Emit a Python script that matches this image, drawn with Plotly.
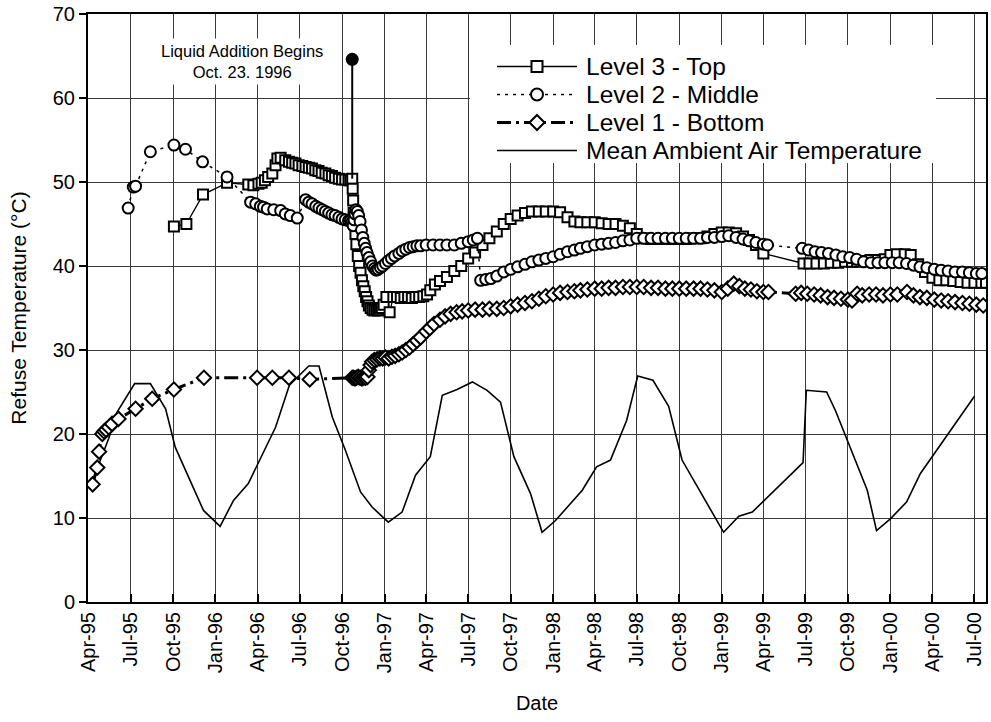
import plotly.graph_objects as go

# ---------------- data ----------------
quarter_ticks = ["1995-04-01", "1995-07-01", "1995-10-01", "1996-01-01", "1996-04-01", "1996-07-01",
                 "1996-10-01", "1997-01-01", "1997-04-01", "1997-07-01", "1997-10-01", "1998-01-01",
                 "1998-04-01", "1998-07-01", "1998-10-01", "1999-01-01", "1999-04-01", "1999-07-01",
                 "1999-10-01", "2000-01-01", "2000-04-01", "2000-07-01"]
quarter_labels = ["Apr-95", "Jul-95", "Oct-95", "Jan-96", "Apr-96", "Jul-96", "Oct-96", "Jan-97",
                  "Apr-97", "Jul-97", "Oct-97", "Jan-98", "Apr-98", "Jul-98", "Oct-98", "Jan-99",
                  "Apr-99", "Jul-99", "Oct-99", "Jan-00", "Apr-00", "Jul-00"]

l3_dates = ["1995-10-03", "1995-10-30", "1995-12-05", "1996-01-26", "1996-03-12", "1996-03-23", "1996-04-03",
            "1996-04-10", "1996-04-17", "1996-04-24", "1996-05-03", "1996-05-10", "1996-05-14", "1996-05-21",
            "1996-05-31", "1996-06-08", "1996-06-15", "1996-06-22", "1996-06-29", "1996-07-07", "1996-07-14",
            "1996-07-21", "1996-07-28", "1996-08-04", "1996-08-11", "1996-08-18", "1996-08-26", "1996-09-02",
            "1996-09-09", "1996-09-16", "1996-09-24", "1996-10-01", "1996-10-08", "1996-10-15", "1996-10-19",
            "1996-10-23", "1996-10-24", "1996-10-25", "1996-10-26", "1996-10-28", "1996-10-30", "1996-11-01",
            "1996-11-04", "1996-11-07", "1996-11-10", "1996-11-13", "1996-11-16", "1996-11-19", "1996-11-22",
            "1996-11-25", "1996-11-28", "1996-12-02", "1996-12-06", "1996-12-10", "1996-12-14", "1996-12-18",
            "1996-12-22", "1996-12-26", "1996-12-30", "1997-01-05", "1997-01-12", "1997-01-20", "1997-01-28",
            "1997-02-05", "1997-02-13", "1997-02-21", "1997-03-01", "1997-03-09", "1997-03-17", "1997-03-26",
            "1997-04-03", "1997-04-10", "1997-04-20", "1997-05-01", "1997-05-16", "1997-06-01", "1997-06-16",
            "1997-07-01", "1997-07-16", "1997-08-01", "1997-08-16", "1997-09-01", "1997-09-16", "1997-10-01",
            "1997-10-16", "1997-11-01", "1997-11-16", "1997-12-01", "1997-12-16", "1998-01-01", "1998-01-16",
            "1998-02-01", "1998-02-16", "1998-03-01", "1998-03-16", "1998-04-01", "1998-04-16", "1998-05-01",
            "1998-05-16", "1998-06-01", "1998-06-16", "1998-07-01", "1998-07-16", "1998-08-01", "1998-08-16",
            "1998-09-01", "1998-09-16", "1998-10-01", "1998-10-16", "1998-11-01", "1998-11-16", "1998-12-01",
            "1998-12-16", "1999-01-01", "1999-01-16", "1999-02-01", "1999-02-16", "1999-03-01", "1999-03-16",
            "1999-04-01", "1999-06-27", "1999-07-10", "1999-07-25", "1999-08-10", "1999-08-25", "1999-09-10",
            "1999-09-25", "1999-10-10", "1999-10-21", "1999-11-05", "1999-11-19", "1999-12-05", "1999-12-20",
            "2000-01-01", "2000-01-15", "2000-02-01", "2000-02-14", "2000-03-01", "2000-03-16", "2000-04-01",
            "2000-04-16", "2000-05-01", "2000-05-16", "2000-06-01", "2000-06-16", "2000-07-01", "2000-07-16",
            "2000-07-26"]
l3_vals = [44.7, 45.0, 48.5, 49.9, 49.7, 49.6, 49.8,
           49.9, 50.2, 50.6, 51.0, 52.0, 52.8, 52.9,
           52.6, 52.4, 52.3, 52.2, 52.0, 51.9, 51.8,
           51.7, 51.6, 51.4, 51.3, 51.1, 51.0, 50.8,
           50.7, 50.5, 50.4, 50.3, 50.3, 50.2, 50.2,
           50.4, 49.2, 47.8, 46.3, 45.0, 43.8, 42.6,
           41.2, 40.0, 39.2, 38.3, 37.6, 37.0, 36.3,
           35.8, 35.3, 35.0, 34.8, 34.7, 34.8, 34.7,
           34.9, 35.0, 35.4, 36.3, 34.5, 36.3, 36.3,
           36.2, 36.3, 36.3, 36.2, 36.3, 36.3, 36.4,
           36.6, 37.1, 37.8, 38.2, 38.7, 39.4, 40.0,
           40.9, 41.6, 42.5, 43.3, 44.1, 45.0, 45.6,
           46.0, 46.3, 46.5, 46.5, 46.5, 46.5, 46.4,
           45.8, 45.3, 45.2, 45.2, 45.2, 45.1, 45.0,
           45.0, 44.8, 44.5, 43.8, 43.3, 43.2, 43.2,
           43.2, 43.2, 43.2, 43.2, 43.3, 43.3, 43.5,
           43.8, 44.0, 44.0, 43.9, 43.5, 43.1, 42.5,
           41.5, 40.3, 40.3, 40.3, 40.3, 40.4, 40.4,
           40.5, 40.5, 40.5, 40.6, 40.7, 40.7, 40.8,
           41.3, 41.4, 41.4, 41.3, 40.2, 39.3, 38.6,
           38.3, 38.3, 38.2, 38.1, 38.0, 38.0, 38.0,
           38.0]

l2_dates = ["1995-06-26", "1995-07-07", "1995-07-12", "1995-08-13", "1995-10-03", "1995-10-28", "1995-12-04",
            "1996-01-26", "1996-03-17", "1996-03-28", "1996-04-07", "1996-04-14", "1996-04-22", "1996-05-06",
            "1996-05-21", "1996-05-31", "1996-06-11", "1996-06-26", "1996-07-14", "1996-07-21", "1996-07-28",
            "1996-08-05", "1996-08-12", "1996-08-19", "1996-08-26", "1996-09-02", "1996-09-09", "1996-09-16",
            "1996-09-24", "1996-10-01", "1996-10-08", "1996-10-15", "1996-10-19", "1996-10-23", "1996-10-25",
            "1996-10-27", "1996-10-29", "1996-10-31", "1996-11-03", "1996-11-06", "1996-11-09", "1996-11-12",
            "1996-11-15", "1996-11-18", "1996-11-21", "1996-11-24", "1996-11-28", "1996-12-02", "1996-12-06",
            "1996-12-10", "1996-12-14", "1996-12-18", "1996-12-23", "1996-12-28", "1997-01-03", "1997-01-09",
            "1997-01-16", "1997-01-23", "1997-02-01", "1997-02-08", "1997-02-16", "1997-02-24", "1997-03-04",
            "1997-03-12", "1997-03-20", "1997-04-01", "1997-04-16", "1997-05-01", "1997-05-16", "1997-06-01",
            "1997-06-16", "1997-07-01", "1997-07-12", "1997-07-21", "1997-07-28", "1997-08-08", "1997-08-19",
            "1997-09-01", "1997-09-16", "1997-10-01", "1997-10-16", "1997-11-01", "1997-11-16", "1997-12-01",
            "1997-12-16", "1998-01-01", "1998-01-16", "1998-02-01", "1998-02-16", "1998-03-01", "1998-03-16",
            "1998-04-01", "1998-04-16", "1998-05-01", "1998-05-16", "1998-06-01", "1998-06-16", "1998-07-01",
            "1998-07-16", "1998-08-01", "1998-08-16", "1998-09-01", "1998-09-16", "1998-10-01", "1998-10-16",
            "1998-11-01", "1998-11-16", "1998-12-01", "1998-12-16", "1999-01-01", "1999-01-16", "1999-02-01",
            "1999-02-16", "1999-03-01", "1999-03-16", "1999-04-01", "1999-04-10", "1999-06-24", "1999-07-08",
            "1999-07-22", "1999-08-05", "1999-08-20", "1999-09-05", "1999-09-20", "1999-10-05", "1999-10-20",
            "1999-11-04", "1999-11-20", "1999-12-05", "1999-12-20", "2000-01-05", "2000-01-20", "2000-02-05",
            "2000-02-20", "2000-03-05", "2000-03-20", "2000-04-05", "2000-04-20", "2000-05-05", "2000-05-20",
            "2000-06-05", "2000-06-20", "2000-07-05", "2000-07-17"]
l2_vals = [46.9, 49.4, 49.5, 53.6, 54.4, 53.9, 52.4,
           50.6, 47.6, 47.4, 47.1, 47.0, 46.8, 46.7,
           46.6, 46.2, 46.0, 45.7, 47.9, 47.6, 47.4,
           47.1, 46.9, 46.7, 46.5, 46.3, 46.1, 46.0,
           45.8, 45.6, 45.5, 45.4, 45.4, 45.3, 44.8,
           45.5, 46.2, 46.7, 46.5, 46.0, 45.3, 44.3,
           43.4, 42.7, 42.1, 41.6, 41.0, 40.5, 40.0,
           39.7, 39.5, 39.6, 39.8, 40.0, 40.3, 40.6,
           40.9, 41.2, 41.5, 41.8, 42.0, 42.2, 42.3,
           42.4, 42.4, 42.5, 42.5, 42.5, 42.5, 42.5,
           42.7, 42.9, 43.1, 43.3, 38.3, 38.4, 38.5,
           38.8, 39.3, 39.6, 39.9, 40.2, 40.5, 40.7,
           40.9, 41.1, 41.4, 41.7, 41.9, 42.1, 42.3,
           42.5, 42.6, 42.7, 42.8, 43.0, 43.1, 43.3,
           43.3, 43.3, 43.3, 43.3, 43.3, 43.3, 43.3,
           43.3, 43.3, 43.4, 43.4, 43.5, 43.6, 43.4,
           43.2, 43.0, 42.8, 42.6, 42.5, 42.1, 41.9,
           41.7, 41.6, 41.5, 41.3, 41.1, 41.0, 40.8,
           40.5, 40.4, 40.4, 40.4, 40.4, 40.4, 40.3,
           40.1, 39.9, 39.8, 39.6, 39.5, 39.4, 39.3,
           39.3, 39.2, 39.1, 39.1]

l1_dates = ["1995-04-10", "1995-04-20", "1995-04-24", "1995-05-01", "1995-05-05", "1995-05-09", "1995-05-15",
            "1995-05-22", "1995-06-05", "1995-07-12", "1995-08-17", "1995-10-03", "1995-12-07", "1996-03-31",
            "1996-05-03", "1996-06-08", "1996-07-23", "1996-10-23", "1996-10-26", "1996-10-29", "1996-11-01",
            "1996-11-05", "1996-11-09", "1996-11-13", "1996-11-17", "1996-11-21", "1996-11-25", "1996-11-28",
            "1996-12-02", "1996-12-05", "1996-12-10", "1996-12-16", "1996-12-22", "1996-12-28", "1997-01-03",
            "1997-01-10", "1997-01-17", "1997-01-24", "1997-02-01", "1997-02-08", "1997-02-16", "1997-02-24",
            "1997-03-04", "1997-03-12", "1997-03-20", "1997-04-01", "1997-04-09", "1997-04-18", "1997-05-01",
            "1997-05-12", "1997-05-24", "1997-06-06", "1997-06-18", "1997-07-01", "1997-07-16", "1997-08-01",
            "1997-08-16", "1997-09-01", "1997-09-16", "1997-10-01", "1997-10-16", "1997-11-01", "1997-11-16",
            "1997-12-01", "1997-12-16", "1998-01-01", "1998-01-16", "1998-02-01", "1998-02-16", "1998-03-01",
            "1998-03-16", "1998-04-01", "1998-04-16", "1998-05-01", "1998-05-16", "1998-06-01", "1998-06-16",
            "1998-07-01", "1998-07-16", "1998-08-01", "1998-08-16", "1998-09-01", "1998-09-16", "1998-10-01",
            "1998-10-16", "1998-11-01", "1998-11-16", "1998-12-01", "1998-12-16", "1999-01-01", "1999-01-14",
            "1999-01-27", "1999-02-08", "1999-02-20", "1999-03-05", "1999-03-18", "1999-04-01", "1999-04-12",
            "1999-06-10", "1999-06-22", "1999-07-05", "1999-07-20", "1999-08-03", "1999-08-18", "1999-09-01",
            "1999-09-16", "1999-10-01", "1999-10-10", "1999-10-21", "1999-11-01", "1999-11-16", "1999-12-01",
            "1999-12-16", "2000-01-01", "2000-01-16", "2000-02-06", "2000-02-20", "2000-03-05", "2000-03-20",
            "2000-04-05", "2000-04-20", "2000-05-05", "2000-05-20", "2000-06-05", "2000-06-20", "2000-07-05",
            "2000-07-20"]
l1_vals = [14.0, 16.0, 17.9, 20.0, 20.3, 20.5, 20.8,
           21.2, 21.8, 23.0, 24.2, 25.3, 26.7, 26.7,
           26.7, 26.7, 26.5, 26.7, 26.7, 26.6, 26.7,
           26.8, 26.7, 26.6, 26.7, 26.7, 26.8, 27.6,
           28.2, 28.6, 28.8, 28.9, 29.0, 29.0, 29.1,
           29.0, 29.2, 29.3, 29.5, 29.7, 30.0, 30.3,
           30.7, 31.1, 31.5, 32.2, 32.6, 33.1, 33.6,
           34.0, 34.3, 34.5, 34.6, 34.7, 34.8, 34.8,
           34.9, 34.9, 35.0, 35.2, 35.4, 35.6, 35.8,
           36.1, 36.4, 36.6, 36.8, 36.9, 37.0, 37.1,
           37.2, 37.3, 37.3, 37.4, 37.4, 37.5, 37.5,
           37.5, 37.5, 37.4, 37.4, 37.3, 37.3, 37.3,
           37.3, 37.3, 37.3, 37.2, 37.1, 36.9, 37.3,
           37.9, 37.6, 37.3, 37.2, 37.0, 36.9, 36.9,
           36.7, 36.8, 36.7, 36.6, 36.5, 36.3, 36.2,
           36.1, 36.0, 35.9, 36.7, 36.5, 36.6, 36.6,
           36.5, 36.6, 36.6, 36.9, 36.5, 36.3, 36.2,
           36.0, 35.9, 35.8, 35.7, 35.6, 35.5, 35.4,
           35.3]

air_dates = ["1995-04-10", "1995-05-15", "1995-06-02", "1995-07-10", "1995-08-13", "1995-09-15", "1995-10-06",
             "1995-12-06", "1996-01-11", "1996-02-09", "1996-03-12", "1996-04-07", "1996-05-10", "1996-06-09",
             "1996-07-21", "1996-08-12", "1996-09-10", "1996-10-08", "1996-11-10", "1996-12-05", "1997-01-09",
             "1997-02-08", "1997-03-09", "1997-04-10", "1997-05-06", "1997-06-07", "1997-07-10", "1997-08-11",
             "1997-09-09", "1997-10-08", "1997-11-13", "1997-12-08", "1998-01-06", "1998-03-05", "1998-04-05",
             "1998-05-05", "1998-06-09", "1998-07-03", "1998-08-05", "1998-09-08", "1998-10-07", "1999-01-05",
             "1999-02-07", "1999-03-08", "1999-06-26", "1999-07-03", "1999-08-16", "1999-09-04", "1999-11-12",
             "1999-12-02", "2000-01-01", "2000-02-05", "2000-03-06", "2000-07-01"]
air_vals = [14.5, 19.5, 22.6, 26.0, 26.0, 23.0, 18.4,
            10.9, 9.0, 12.1, 14.1, 17.1, 20.8, 25.8,
            28.1, 28.1, 22.0, 18.1, 13.1, 11.3, 9.5,
            10.7, 15.1, 17.3, 24.6, 25.3, 26.2, 25.2,
            23.8, 17.3, 12.9, 8.3, 9.7, 13.3, 16.1,
            16.9, 21.6, 26.9, 26.4, 23.3, 16.9, 8.3,
            10.2, 10.7, 16.6, 25.2, 25.0, 22.8, 13.3,
            8.5, 9.9, 11.9, 15.3, 24.5]

event_date = "1996-10-23"
event_top = 64.6
event_base = 50.4
event_text = "Liquid Addition Begins<br>Oct. 23. 1996"

series_names = ["Level 3 - Top", "Level 2 - Middle", "Level 1 - Bottom", "Mean Ambient Air Temperature"]

# ---------------- layout geometry ----------------
W, H = 991, 722
PL, PT, PR, PB = 88, 14, 986, 602  # plot area on the page (pixels); page body margin removed below
ML, MT, MR, MB = PL, PT, W - PR, H - PB
FONT = "Liberation Sans, Arial, sans-serif"


def fx(p):
    return (p - PL) / (PR - PL)


def fy(p):
    return (PB - p) / (PB - PT)


DASH_L2 = "3px,5px"
DASH_L1 = "14px,5px,3px,5px"
MLW = 2.0

fig = go.Figure()

fig.add_trace(go.Scatter(x=air_dates, y=air_vals, mode="lines", name=series_names[3],
                         line=dict(color="black", width=1.6)))
fig.add_trace(go.Scatter(x=l3_dates, y=l3_vals, mode="lines+markers", name=series_names[0],
                         line=dict(color="black", width=1.3),
                         marker=dict(symbol="square", size=10, color="white",
                                     line=dict(color="black", width=MLW))))
fig.add_trace(go.Scatter(x=l2_dates, y=l2_vals, mode="lines+markers", name=series_names[1],
                         line=dict(color="black", width=1.5, dash=DASH_L2),
                         marker=dict(symbol="circle", size=11, color="white",
                                     line=dict(color="black", width=MLW))))
fig.add_trace(go.Scatter(x=l1_dates, y=l1_vals, mode="lines+markers", name=series_names[2],
                         line=dict(color="black", width=3, dash=DASH_L1),
                         marker=dict(symbol="diamond", size=11, color="white",
                                     line=dict(color="black", width=MLW))))
fig.add_trace(go.Scatter(x=[event_date, event_date], y=[event_top, event_base], mode="lines",
                         line=dict(color="black", width=2), showlegend=False))
fig.add_trace(go.Scatter(x=[event_date], y=[event_top], mode="markers", showlegend=False,
                         marker=dict(symbol="circle", size=13, color="black")))

# ---------------- custom legend ----------------
shapes = []
shapes.append(dict(type="rect", xref="paper", yref="paper", x0=fx(470), x1=fx(936), y0=fy(163), y1=fy(45),
                   fillcolor="white", line=dict(width=0), layer="above"))
rows = [66.5, 94.5, 122.5, 150.5]
lx0, lx1, mx = 497, 577, 537
dashes = ["solid", DASH_L2, DASH_L1, "solid"]
widths = [1.3, 1.5, 3, 1.6]
for r, d, w in zip(rows, dashes, widths):
    shapes.append(dict(type="line", xref="paper", yref="paper", x0=fx(lx0), x1=fx(lx1), y0=fy(r), y1=fy(r),
                       line=dict(color="black", width=w, dash=d), layer="above"))
shapes.append(dict(type="rect", xref="paper", yref="paper", x0=fx(mx - 5.5), x1=fx(mx + 5.5),
                   y0=fy(rows[0] + 5.5), y1=fy(rows[0] - 5.5), fillcolor="white",
                   line=dict(color="black", width=MLW), layer="above"))
shapes.append(dict(type="circle", xref="paper", yref="paper", x0=fx(mx - 6), x1=fx(mx + 6),
                   y0=fy(rows[1] + 6), y1=fy(rows[1] - 6), fillcolor="white",
                   line=dict(color="black", width=MLW), layer="above"))
d = 7.5
path = "M {a},{b} L {c},{e} L {a},{f} L {g},{e} Z".format(
    a=fx(mx), b=fy(rows[2] - d), c=fx(mx + d), e=fy(rows[2]), f=fy(rows[2] + d), g=fx(mx - d))
shapes.append(dict(type="path", xref="paper", yref="paper", path=path, fillcolor="white",
                   line=dict(color="black", width=MLW), layer="above"))

annotations = []
for r, name in zip(rows, series_names):
    annotations.append(dict(xref="paper", yref="paper", x=fx(584), y=fy(r), text=name, showarrow=False,
                            xanchor="left", yanchor="middle", font=dict(family=FONT, size=24.5, color="black")))
annotations.append(dict(xref="paper", yref="y", x=fx(242), y=64.3, text=event_text, showarrow=False,
                        xanchor="center", yanchor="middle", align="center", bgcolor="white", borderpad=3,
                        font=dict(family=FONT, size=16.5, color="black")))

fig.update_layout(
    width=W, height=H,
    margin=dict(l=ML, r=MR, t=MT, b=MB),
    paper_bgcolor="white", plot_bgcolor="white",
    showlegend=False,
    font=dict(family=FONT, color="black"),
    shapes=shapes,
    annotations=annotations,
)
fig.update_xaxes(
    type="date", range=["1995-03-31", "2000-07-26"],
    tickmode="array", tickvals=quarter_ticks, ticktext=quarter_labels, tickangle=-90,
    tickfont=dict(family=FONT, size=20, color="black"), ticklabeloverflow="allow",
    showgrid=True, gridcolor="#3a3a3a", gridwidth=1,
    showline=True, linecolor="black", linewidth=2, mirror=True,
    ticks="inside", ticklen=8, tickwidth=2, tickcolor="black",
    zeroline=False, automargin=False,
    title=dict(text="Date", font=dict(family=FONT, size=20, color="black"), standoff=24),
)
fig.update_yaxes(
    range=[0, 70], tick0=0, dtick=10,
    tickfont=dict(family=FONT, size=20, color="black"), ticklabeloverflow="allow",
    showgrid=True, gridcolor="#3a3a3a", gridwidth=1,
    showline=True, linecolor="black", linewidth=2, mirror=True,
    ticks="outside", ticklen=7, tickwidth=2, tickcolor="black",
    zeroline=False, automargin=False,
    title=dict(text="Refuse Temperature (°C)", font=dict(family=FONT, size=21, color="black"), standoff=20),
)

fig.write_html("out.html", config={"displayModeBar": False},
               post_script="document.body.style.margin='0px';")
